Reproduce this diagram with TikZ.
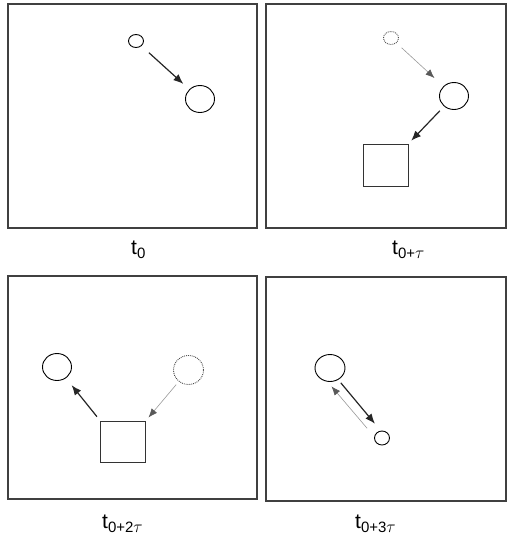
\documentclass[tikz,border=0pt]{standalone}
\usepackage{fontspec}
\setmainfont{Liberation Sans}
\usetikzlibrary{arrows.meta,shapes.geometric}

\newcommand{\tsub}[1]{\raisebox{-4.5pt}{\fontsize{15}{15}\selectfont #1}}
\newcommand{\tautxt}{{\fontsize{18}{18}\selectfont$\tau$}}

\begin{document}
\begin{tikzpicture}[x=1pt,y=-1pt,
  panel/.style={draw=black!75, line width=1.1pt},
  blob/.style={draw, ellipse, line width=0.9pt, inner sep=0pt},
  small/.style={blob, minimum width=15pt, minimum height=13pt},
  big/.style={blob, minimum width=29pt, minimum height=27pt},
  ghost/.style={densely dotted, draw=black!70},
  box/.style={draw=black!80, line width=0.8pt, minimum width=45pt, minimum height=42pt, inner sep=0pt},
  move/.style={-{Latex[length=10pt,width=8pt]}, line width=1.2pt, black!85},
  trace/.style={-{Latex[length=9pt,width=7pt,color=black!65]}, line width=0.6pt, draw=black!40},
  lab/.style={anchor=base west, inner sep=0pt, font=\fontsize{21}{21}\selectfont}
]

\useasboundingbox (0,0) rectangle (507,536);

  % Panels
  \draw[panel] (8,4) rectangle (257,228);
  \draw[panel] (266,4) rectangle (506,228);
  \draw[panel] (8,276) rectangle (257,499);
  \draw[panel] (266,277) rectangle (506,501);

  % t0
  \node[small] (S1) at (136,41) {};
  \node[big] (B1) at (200,99) {};
  \draw[move, shorten <=10pt, shorten >=8pt] (S1) -- (B1);

  % t0+tau
  \node[small, ghost] (S2) at (391,38) {};
  \node[big] (B2) at (454,96) {};
  \node[box] (Q2) at (385.5,165) {};
  \draw[trace, shorten <=7pt, shorten >=12pt] (S2) -- (B2);
  \draw[move, shorten <=6pt, shorten >=4pt] (B2) -- (Q2.north east);

  % t0+2tau
  \node[big] (L3) at (57,367) {};
  \node[big, ghost, minimum width=30pt, minimum height=29pt] (R3) at (188.5,370) {};
  \node[box, minimum height=41pt] (Q3) at (123,441.5) {};
  \draw[move, shorten <=5pt, shorten >=9pt] (Q3.north west) -- (L3);
  \draw[trace, shorten <=4pt, shorten >=4pt] (R3) -- (Q3.north east);

  % t0+3tau
  \node[big, minimum width=30pt] (B4) at (330,368) {};
  \node[small, minimum height=14pt] (S4) at (382,438) {};
  \draw[move, shorten <=4pt, shorten >=9pt] (B4.-55) -- (S4.100);
  \draw[trace, shorten <=11pt, shorten >=6pt] (S4.170) -- (B4.-100);

  % Labels
  \node[lab] (T1) at (131,254) {t\tsub{0}};
  \node[lab] (T2) at (392,254) {t\tsub{0+\tautxt}};
  \node[lab] (T3) at (102,528) {t\tsub{0+2\tautxt}};
  \node[lab] (T4) at (355,528) {t\tsub{0+3\tautxt}};

\end{tikzpicture}
\end{document}
